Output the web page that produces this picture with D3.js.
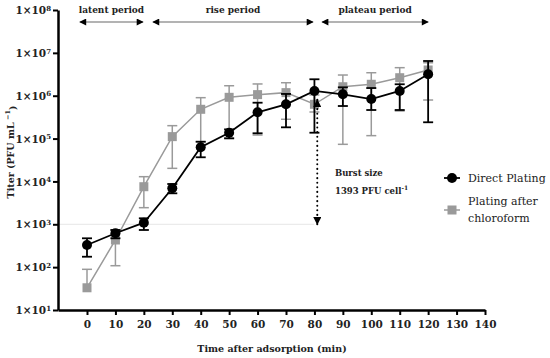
<!DOCTYPE html>
<html>
<head>
<meta charset="utf-8">
<script src="https://cdn.jsdelivr.net/npm/d3@7"></script>
<style>
  body { margin: 0; background: #fff; }
  svg text { font-family: "DejaVu Serif", "Liberation Serif", serif; }
</style>
</head>
<body>
<svg id="vis" width="550" height="358"></svg>
<script>
// time points (min)
const times = [0, 10, 20, 30, 40, 50, 60, 70, 80, 90, 100, 110, 120];

// Direct Plating titer, with upper / lower error ends
const directMean = [329, 617, 1089, 6918, 62500, 137000, 410000, 631000, 1290000, 1080000, 837000, 1290000, 3160000];
const directHigh = [471, 736, 1380, 8710, 84500, 164000, 687000, 1100000, 2420000, 1570000, 1510000, 1850000, 6460000];
const directLow  = [175, 471, 736, 5280, 36600, 101000, 133000, 183000, 137000, 575000, 464000, 464000, 240000];

// Plating after chloroform
const chloroMean = [33, 430, 7530, 111000, 482000, 918000, 1060000, 1180000, 631000, 1620000, 1850000, 2630000, 3980000];
const chloroHigh = [89, 736, 12900, 200000, 900000, 1710000, 1880000, 2010000, 1040000, 3040000, 3440000, 4510000, 5890000];
const chloroLow  = [33, 108, 2440, 20200, 84500, 103000, 121000, 282000, 417000, 73400, 117000, 440000, 794000];

const xTicks = [0, 10, 20, 30, 40, 50, 60, 70, 80, 90, 100, 110, 120, 130, 140];
const yExponents = [1, 2, 3, 4, 5, 6, 7, 8];

// growth phases (start, end in minutes)
const periods = [
    {name: "latent period", from: -2.5, to: 19.7},
    {name: "rise period", from: 23.2, to: 79.5},
    {name: "plateau period", from: 82.7, to: 120}
];

const burstTime = 81;
const burstTop = 800000;
const burstBottom = 1000;

const MARGINS = {top: 10, right: 65, bottom: 48, left: 58};
const WIDTH = 550, HEIGHT = 358;

const svg = d3.select("#vis");

const x = d3.scaleLinear()
    .domain([-10.2, 140])
    .range([MARGINS.left, WIDTH - MARGINS.right]);
const y = d3.scaleLog()
    .domain([10, 1e8])
    .range([HEIGHT - MARGINS.bottom, MARGINS.top]);

const GREY = "#9a9a9a";

// faint guide line at the burst-size bottom
svg.append("line")
    .attr("x1", x.range()[0]).attr("x2", x(burstTime) - 3)
    .attr("y1", y(burstBottom)).attr("y2", y(burstBottom))
    .attr("stroke", "#e6e6e6").attr("stroke-width", 1);

// axes
const xAxis = d3.axisBottom(x).tickValues(xTicks).tickSize(5).tickSizeOuter(0).tickPadding(6);
const yAxis = d3.axisLeft(y).tickValues(yExponents.map(e => Math.pow(10, e)))
    .tickSize(5).tickSizeOuter(0).tickPadding(3).tickFormat("");

const gx = svg.append("g")
    .attr("transform", `translate(0, ${HEIGHT - MARGINS.bottom})`)
    .call(xAxis);
gx.selectAll(".tick text")
    .attr("font-size", 10.5).attr("font-weight", "bold").attr("fill", "#222");

const gy = svg.append("g")
    .attr("transform", `translate(${MARGINS.left}, 0)`)
    .call(yAxis);

[gx, gy].forEach(g => {
    g.select(".domain").attr("stroke", "#000").attr("stroke-width", 2.5);
    g.selectAll(".tick line").attr("stroke", "#000").attr("stroke-width", 2);
});

// y tick labels as 1x10^n with superscripts
gy.selectAll(".tick").each(function(d){
    const t = d3.select(this).append("text")
        .attr("x", -7).attr("dy", "0.35em")
        .attr("text-anchor", "end")
        .attr("font-size", 10.5).attr("font-weight", "bold")
        .attr("fill", "#222");
    t.append("tspan").text("1×10");
    t.append("tspan").attr("font-size", 7).attr("dy", "-0.5em")
        .text(Math.round(Math.log10(d)));
});

// axis titles
svg.append("text")
    .attr("x", (x(0) + x(140)) / 2 - 14).attr("y", 352)
    .attr("text-anchor", "middle").attr("font-size", 9.5).attr("font-weight", "bold")
    .attr("fill", "#222")
    .text("Time after adsorption (min)");

const yl = svg.append("text")
    .attr("transform", "translate(14, 152) rotate(-90)")
    .attr("text-anchor", "middle").attr("font-size", 9.5).attr("font-weight", "bold")
    .attr("fill", "#222");
yl.append("tspan").text("Titer (PFU mL");
yl.append("tspan").attr("font-size", 6.5).attr("dy", "-0.6em").text(" −1");
yl.append("tspan").attr("dy", "0.6em").text(")");

// period arrows
const defs = svg.append("defs");
defs.append("marker").attr("id", "head")
    .attr("viewBox", "0 0 10 10").attr("refX", 9).attr("refY", 5)
    .attr("markerWidth", 9).attr("markerHeight", 7).attr("markerUnits", "userSpaceOnUse")
    .attr("orient", "auto-start-reverse")
    .append("path").attr("d", "M0,0 L10,5 L0,10 Z").attr("fill", "#000");

periods.forEach(p => {
    svg.append("line")
        .attr("x1", x(p.from)).attr("x2", x(p.to))
        .attr("y1", 22).attr("y2", 22)
        .attr("stroke", GREY).attr("stroke-width", 1.5)
        .attr("marker-start", "url(#head)").attr("marker-end", "url(#head)");
    svg.append("text")
        .attr("x", (x(p.from) + x(p.to)) / 2).attr("y", 13)
        .attr("text-anchor", "middle").attr("font-size", 9).attr("font-weight", "bold")
        .attr("fill", "#222")
        .text(p.name);
});

// series drawing
function drawSeries(mean, high, low, colour, width, shape){
    const g = svg.append("g");
    const line = d3.line().x((d, i) => x(times[i])).y(d => y(d));
    g.append("path").datum(mean)
        .attr("d", line).attr("fill", "none")
        .attr("stroke", colour).attr("stroke-width", width);

    times.forEach((t, i) => {
        const cx = x(t);
        g.append("line")
            .attr("x1", cx).attr("x2", cx)
            .attr("y1", y(high[i])).attr("y2", y(low[i]))
            .attr("stroke", colour).attr("stroke-width", width);
        [high[i], low[i]].forEach(v => {
            if (v === mean[i]) return;
            g.append("line")
                .attr("x1", cx - 5).attr("x2", cx + 5)
                .attr("y1", y(v)).attr("y2", y(v))
                .attr("stroke", colour).attr("stroke-width", width);
        });
    });

    g.selectAll(".pt").data(mean).enter()
        .append(shape === "circle" ? "circle" : "rect")
        .each(function(d, i){
            const el = d3.select(this);
            if (shape === "circle") {
                el.attr("cx", x(times[i])).attr("cy", y(d)).attr("r", 5);
            } else {
                el.attr("x", x(times[i]) - 4.5).attr("y", y(d) - 4.5)
                  .attr("width", 9).attr("height", 9);
            }
        })
        .attr("fill", colour);
}

drawSeries(chloroMean, chloroHigh, chloroLow, GREY, 1.5, "square");
drawSeries(directMean, directHigh, directLow, "#000", 1.8, "circle");

// burst size dotted arrow
defs.append("marker").attr("id", "tri")
    .attr("viewBox", "0 0 10 10").attr("refX", 9).attr("refY", 5)
    .attr("markerWidth", 9).attr("markerHeight", 8).attr("markerUnits", "userSpaceOnUse")
    .attr("orient", "auto-start-reverse")
    .append("path").attr("d", "M0,0 L10,5 L0,10 Z").attr("fill", "#000");

svg.append("line")
    .attr("x1", x(burstTime)).attr("x2", x(burstTime))
    .attr("y1", y(burstTop)).attr("y2", y(burstBottom))
    .attr("stroke", "#000").attr("stroke-width", 2)
    .attr("stroke-dasharray", "0.1 4.5").attr("stroke-linecap", "round")
    .attr("marker-start", "url(#tri)").attr("marker-end", "url(#tri)");

svg.append("text")
    .attr("x", 335).attr("y", 176)
    .attr("font-size", 8.5).attr("font-weight", "bold").attr("fill", "#222")
    .text("Burst size");
const bs = svg.append("text")
    .attr("x", 335).attr("y", 194)
    .attr("font-size", 8.5).attr("font-weight", "bold").attr("fill", "#222");
bs.append("tspan").text("1393 PFU cell");
bs.append("tspan").attr("font-size", 6).attr("dy", "-0.6em").text("-1");

// legend
const lg = svg.append("g");
lg.append("line").attr("x1", 444).attr("x2", 460).attr("y1", 178).attr("y2", 178)
    .attr("stroke", "#000").attr("stroke-width", 1.8);
lg.append("circle").attr("cx", 452).attr("cy", 178).attr("r", 5).attr("fill", "#000");
lg.append("text").attr("x", 468).attr("y", 182)
    .attr("font-size", 11).attr("fill", "#222").text("Direct Plating");

lg.append("line").attr("x1", 444).attr("x2", 460).attr("y1", 210).attr("y2", 210)
    .attr("stroke", GREY).attr("stroke-width", 1.5);
lg.append("rect").attr("x", 447.5).attr("y", 205.5).attr("width", 9).attr("height", 9).attr("fill", GREY);
lg.append("text").attr("x", 468).attr("y", 205)
    .attr("font-size", 11).attr("fill", "#222").text("Plating after");
lg.append("text").attr("x", 468).attr("y", 222)
    .attr("font-size", 11).attr("fill", "#222").text("chloroform");
</script>
</body>
</html>
